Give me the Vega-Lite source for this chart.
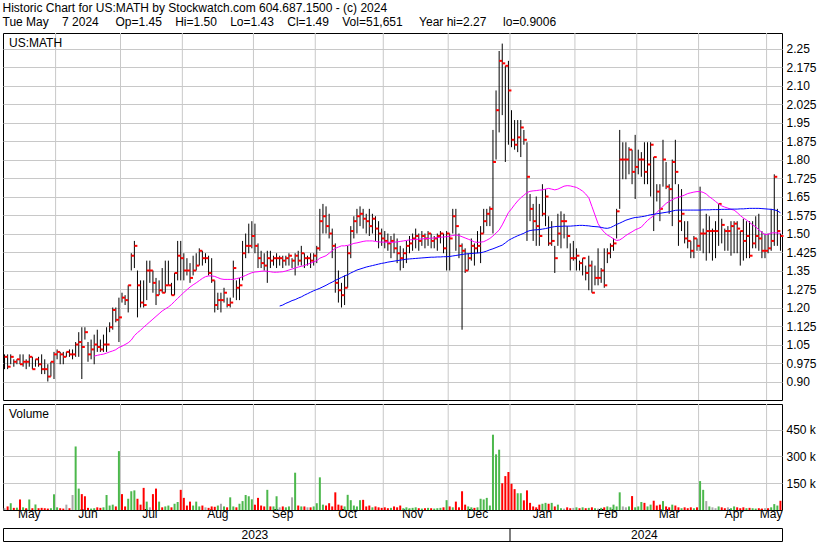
{
  "$schema": "https://vega.github.io/schema/vega-lite/v6.json",
  "background": "white",
  "padding": {"left": 2, "top": 2, "right": 2, "bottom": 2},
  "title": {
    "text": ["Historic Chart for US:MATH by Stockwatch.com 604.687.1500 - (c) 2024", "Tue May\u00a0\u00a0\u00a0 7 2024\u00a0\u00a0\u00a0\u00a0 Op=1.45\u00a0\u00a0\u00a0 Hi=1.50\u00a0\u00a0\u00a0 Lo=1.43\u00a0\u00a0\u00a0 Cl=1.49\u00a0\u00a0\u00a0 Vol=51,651\u00a0\u00a0\u00a0\u00a0 Year hi=2.27\u00a0\u00a0\u00a0\u00a0 lo=0.9006"],
    "anchor": "start", "frame": "bounds", "font": "Liberation Sans", "fontSize": 12, "fontWeight": "normal",
    "color": "black", "lineHeight": 14, "offset": 3
  },
  "config": {
    "view": {"stroke": "black", "strokeWidth": 1},
    "concat": {"spacing": 2},
    "axis": {"labelFont": "Liberation Sans", "labelFontSize": 12, "labelColor": "black", "ticks": false, "domain": false, "gridColor": "#c8c8c8", "gridOpacity": 1, "labelOverlap": false}
  },
  "datasets": {
    "months": [{"d":"2023-06-01"},{"d":"2023-07-03"},{"d":"2023-08-01"},{"d":"2023-09-01"},{"d":"2023-10-02"},{"d":"2023-11-01"},{"d":"2023-12-01"},{"d":"2024-01-02"},{"d":"2024-02-01"},{"d":"2024-03-01"},{"d":"2024-04-01"},{"d":"2024-05-01"}],
    "years": [{"d":"2023-09-01","t":"2023"},{"d":"2024-03-05","t":"2024"}],
    "yearsep": [{"d":"2024-01-02"}],
    "ohlc": [
      {"d":"2023-05-08","h":1.01,"l":0.95,"c":1.00,"v":10000,"s":"flat"},
      {"d":"2023-05-09","h":1.01,"l":0.95,"c":0.96,"v":20000,"s":"down"},
      {"d":"2023-05-10","h":1.01,"l":0.97,"c":1.00,"v":38000,"s":"up"},
      {"d":"2023-05-11","h":0.99,"l":0.96,"c":0.98,"v":12000,"s":"down"},
      {"d":"2023-05-12","h":0.99,"l":0.97,"c":0.99,"v":13000,"s":"up"},
      {"d":"2023-05-15","h":1.01,"l":0.97,"c":0.97,"v":59000,"s":"down"},
      {"d":"2023-05-16","h":1.01,"l":0.96,"c":0.98,"v":15000,"s":"up"},
      {"d":"2023-05-17","h":0.99,"l":0.95,"c":0.98,"v":10000,"s":"down"},
      {"d":"2023-05-18","h":1.01,"l":0.96,"c":1.00,"v":59000,"s":"up"},
      {"d":"2023-05-19","h":1.00,"l":0.95,"c":0.95,"v":10000,"s":"down"},
      {"d":"2023-05-22","h":0.99,"l":0.96,"c":0.99,"v":31000,"s":"up"},
      {"d":"2023-05-23","h":1.00,"l":0.96,"c":0.97,"v":10000,"s":"down"},
      {"d":"2023-05-24","h":1.01,"l":0.93,"c":0.95,"v":12000,"s":"down"},
      {"d":"2023-05-25","h":0.99,"l":0.93,"c":0.95,"v":10000,"s":"down"},
      {"d":"2023-05-26","h":0.97,"l":0.90,"c":0.92,"v":8000,"s":"down"},
      {"d":"2023-05-30","h":0.98,"l":0.92,"c":0.98,"v":10000,"s":"up"},
      {"d":"2023-05-31","h":1.02,"l":0.91,"c":1.01,"v":88000,"s":"up"},
      {"d":"2023-06-01","h":1.03,"l":0.99,"c":1.02,"v":15000,"s":"up"},
      {"d":"2023-06-02","h":1.02,"l":0.97,"c":1.01,"v":10000,"s":"down"},
      {"d":"2023-06-05","h":1.02,"l":0.97,"c":1.00,"v":8000,"s":"down"},
      {"d":"2023-06-06","h":1.02,"l":1.00,"c":1.02,"v":30000,"s":"flat"},
      {"d":"2023-06-07","h":1.03,"l":1.00,"c":1.01,"v":10000,"s":"down"},
      {"d":"2023-06-08","h":1.03,"l":0.99,"c":1.01,"v":84000,"s":"flat"},
      {"d":"2023-06-09","h":1.06,"l":1.00,"c":1.05,"v":356000,"s":"up"},
      {"d":"2023-06-12","h":1.10,"l":1.00,"c":1.06,"v":120000,"s":"up"},
      {"d":"2023-06-13","h":1.12,"l":0.91,"c":1.04,"v":89000,"s":"down"},
      {"d":"2023-06-14","h":1.12,"l":1.07,"c":1.10,"v":77000,"s":"down"},
      {"d":"2023-06-15","h":1.06,"l":0.98,"c":1.01,"v":12000,"s":"down"},
      {"d":"2023-06-16","h":1.07,"l":0.99,"c":1.03,"v":8000,"s":"up"},
      {"d":"2023-06-20","h":1.09,"l":0.97,"c":1.05,"v":10000,"s":"up","m1":1.003},
      {"d":"2023-06-21","h":1.11,"l":1.02,"c":1.04,"v":15000,"s":"down","m1":1.006},
      {"d":"2023-06-22","h":1.07,"l":1.02,"c":1.03,"v":12000,"s":"down","m1":1.009},
      {"d":"2023-06-23","h":1.09,"l":1.02,"c":1.05,"v":15000,"s":"up","m1":1.011},
      {"d":"2023-06-26","h":1.12,"l":1.02,"c":1.05,"v":84000,"s":"up","m1":1.015},
      {"d":"2023-06-27","h":1.14,"l":1.10,"c":1.12,"v":25000,"s":"up","m1":1.020},
      {"d":"2023-06-28","h":1.20,"l":1.11,"c":1.19,"v":30000,"s":"up","m1":1.024},
      {"d":"2023-06-29","h":1.20,"l":1.14,"c":1.15,"v":20000,"s":"down","m1":1.029},
      {"d":"2023-06-30","h":1.24,"l":1.06,"c":1.16,"v":330000,"s":"up","m1":1.038},
      {"d":"2023-07-03","h":1.26,"l":1.22,"c":1.24,"v":89000,"s":"down","m1":1.043},
      {"d":"2023-07-05","h":1.25,"l":1.21,"c":1.23,"v":20000,"s":"down","m1":1.050},
      {"d":"2023-07-06","h":1.29,"l":1.18,"c":1.29,"v":63000,"s":"up","m1":1.057},
      {"d":"2023-07-07","h":1.42,"l":1.35,"c":1.41,"v":105000,"s":"up","m1":1.068},
      {"d":"2023-07-10","h":1.47,"l":1.36,"c":1.45,"v":110000,"s":"up","m1":1.086},
      {"d":"2023-07-11","h":1.35,"l":1.16,"c":1.29,"v":63000,"s":"down","m1":1.098},
      {"d":"2023-07-12","h":1.31,"l":1.20,"c":1.22,"v":30000,"s":"down","m1":1.108},
      {"d":"2023-07-13","h":1.31,"l":1.20,"c":1.21,"v":124000,"s":"down","m1":1.120},
      {"d":"2023-07-14","h":1.39,"l":1.23,"c":1.35,"v":47000,"s":"up","m1":1.131},
      {"d":"2023-07-17","h":1.39,"l":1.30,"c":1.35,"v":15000,"s":"flat","m1":1.142},
      {"d":"2023-07-18","h":1.35,"l":1.26,"c":1.30,"v":89000,"s":"down","m1":1.153},
      {"d":"2023-07-19","h":1.32,"l":1.21,"c":1.25,"v":120000,"s":"down","m1":1.164},
      {"d":"2023-07-20","h":1.31,"l":1.25,"c":1.27,"v":47000,"s":"up","m1":1.175},
      {"d":"2023-07-21","h":1.36,"l":1.26,"c":1.26,"v":15000,"s":"down","m1":1.186},
      {"d":"2023-07-24","h":1.39,"l":1.26,"c":1.29,"v":20000,"s":"up","m1":1.194},
      {"d":"2023-07-25","h":1.39,"l":1.29,"c":1.29,"v":25000,"s":"up","m1":1.202},
      {"d":"2023-07-26","h":1.30,"l":1.25,"c":1.25,"v":15000,"s":"down","m1":1.212},
      {"d":"2023-07-27","h":1.34,"l":1.25,"c":1.34,"v":35000,"s":"up","m1":1.225},
      {"d":"2023-07-28","h":1.47,"l":1.31,"c":1.41,"v":45000,"s":"up","m1":1.237},
      {"d":"2023-07-31","h":1.47,"l":1.31,"c":1.40,"v":113000,"s":"down","m1":1.249},
      {"d":"2023-08-01","h":1.42,"l":1.31,"c":1.35,"v":68000,"s":"down","m1":1.261},
      {"d":"2023-08-02","h":1.40,"l":1.33,"c":1.35,"v":25000,"s":"down","m1":1.272},
      {"d":"2023-08-03","h":1.38,"l":1.30,"c":1.32,"v":47000,"s":"down","m1":1.283},
      {"d":"2023-08-04","h":1.41,"l":1.33,"c":1.35,"v":25000,"s":"up","m1":1.292},
      {"d":"2023-08-07","h":1.42,"l":1.35,"c":1.37,"v":47000,"s":"up","m1":1.300},
      {"d":"2023-08-08","h":1.44,"l":1.37,"c":1.43,"v":20000,"s":"up","m1":1.309},
      {"d":"2023-08-09","h":1.43,"l":1.37,"c":1.40,"v":25000,"s":"down","m1":1.318},
      {"d":"2023-08-10","h":1.42,"l":1.38,"c":1.40,"v":15000,"s":"flat","m1":1.325},
      {"d":"2023-08-11","h":1.41,"l":1.33,"c":1.34,"v":12000,"s":"down","m1":1.328},
      {"d":"2023-08-14","h":1.40,"l":1.30,"c":1.31,"v":20000,"s":"down","m1":1.328},
      {"d":"2023-08-15","h":1.31,"l":1.18,"c":1.21,"v":18000,"s":"down","m1":1.326},
      {"d":"2023-08-16","h":1.26,"l":1.19,"c":1.23,"v":25000,"s":"up","m1":1.321},
      {"d":"2023-08-17","h":1.26,"l":1.18,"c":1.23,"v":35000,"s":"flat","m1":1.316},
      {"d":"2023-08-18","h":1.28,"l":1.22,"c":1.26,"v":20000,"s":"up","m1":1.314},
      {"d":"2023-08-21","h":1.24,"l":1.20,"c":1.21,"v":15000,"s":"down","m1":1.314},
      {"d":"2023-08-22","h":1.24,"l":1.20,"c":1.22,"v":71000,"s":"up","m1":1.314},
      {"d":"2023-08-23","h":1.39,"l":1.24,"c":1.36,"v":20000,"s":"up","m1":1.314},
      {"d":"2023-08-24","h":1.31,"l":1.23,"c":1.28,"v":15000,"s":"down","m1":1.317},
      {"d":"2023-08-25","h":1.32,"l":1.23,"c":1.29,"v":35000,"s":"up","m1":1.320},
      {"d":"2023-08-28","h":1.47,"l":1.31,"c":1.42,"v":50000,"s":"up","m1":1.325},
      {"d":"2023-08-29","h":1.50,"l":1.40,"c":1.45,"v":84000,"s":"up","m1":1.330},
      {"d":"2023-08-30","h":1.54,"l":1.42,"c":1.45,"v":77000,"s":"up","m1":1.336},
      {"d":"2023-08-31","h":1.55,"l":1.44,"c":1.49,"v":60000,"s":"up","m1":1.341},
      {"d":"2023-09-01","h":1.54,"l":1.42,"c":1.45,"v":30000,"s":"down","m1":1.344},
      {"d":"2023-09-05","h":1.46,"l":1.36,"c":1.40,"v":68000,"s":"down","m1":1.345},
      {"d":"2023-09-06","h":1.43,"l":1.36,"c":1.38,"v":25000,"s":"down","m1":1.347},
      {"d":"2023-09-07","h":1.42,"l":1.35,"c":1.37,"v":20000,"s":"down","m1":1.348},
      {"d":"2023-09-08","h":1.43,"l":1.30,"c":1.40,"v":113000,"s":"up","m1":1.347},
      {"d":"2023-09-11","h":1.43,"l":1.36,"c":1.39,"v":20000,"s":"down","m1":1.345},
      {"d":"2023-09-12","h":1.41,"l":1.37,"c":1.40,"v":20000,"s":"up","m1":1.343},
      {"d":"2023-09-13","h":1.42,"l":1.36,"c":1.40,"v":77000,"s":"up","m1":1.343},
      {"d":"2023-09-14","h":1.41,"l":1.37,"c":1.40,"v":15000,"s":"flat","m1":1.344,"m2":1.206},
      {"d":"2023-09-15","h":1.41,"l":1.36,"c":1.39,"v":20000,"s":"down","m1":1.345,"m2":1.210},
      {"d":"2023-09-18","h":1.41,"l":1.37,"c":1.40,"v":15000,"s":"up","m1":1.348,"m2":1.217},
      {"d":"2023-09-19","h":1.42,"l":1.37,"c":1.41,"v":20000,"s":"up","m1":1.352,"m2":1.222},
      {"d":"2023-09-20","h":1.40,"l":1.36,"c":1.39,"v":71000,"s":"flat","m1":1.356,"m2":1.228},
      {"d":"2023-09-21","h":1.42,"l":1.33,"c":1.41,"v":209000,"s":"up","m1":1.360,"m2":1.232},
      {"d":"2023-09-22","h":1.43,"l":1.37,"c":1.39,"v":25000,"s":"down","m1":1.364,"m2":1.238},
      {"d":"2023-09-25","h":1.45,"l":1.37,"c":1.42,"v":20000,"s":"up","m1":1.367,"m2":1.243},
      {"d":"2023-09-26","h":1.42,"l":1.36,"c":1.40,"v":20000,"s":"down","m1":1.370,"m2":1.250},
      {"d":"2023-09-27","h":1.41,"l":1.37,"c":1.40,"v":15000,"s":"flat","m1":1.375,"m2":1.256},
      {"d":"2023-09-28","h":1.42,"l":1.36,"c":1.39,"v":15000,"s":"down","m1":1.380,"m2":1.262},
      {"d":"2023-09-29","h":1.42,"l":1.37,"c":1.41,"v":20000,"s":"up","m1":1.385,"m2":1.268},
      {"d":"2023-10-02","h":1.45,"l":1.38,"c":1.44,"v":38000,"s":"up","m1":1.390,"m2":1.273},
      {"d":"2023-10-03","h":1.60,"l":1.43,"c":1.55,"v":183000,"s":"up","m1":1.400,"m2":1.278},
      {"d":"2023-10-04","h":1.62,"l":1.50,"c":1.57,"v":30000,"s":"up","m1":1.405,"m2":1.284},
      {"d":"2023-10-05","h":1.61,"l":1.50,"c":1.53,"v":25000,"s":"down","m1":1.410,"m2":1.290},
      {"d":"2023-10-06","h":1.58,"l":1.48,"c":1.50,"v":38000,"s":"down","m1":1.420,"m2":1.297},
      {"d":"2023-10-09","h":1.52,"l":1.40,"c":1.45,"v":20000,"s":"down","m1":1.430,"m2":1.303},
      {"d":"2023-10-10","h":1.46,"l":1.26,"c":1.30,"v":99000,"s":"down","m1":1.440,"m2":1.310},
      {"d":"2023-10-11","h":1.35,"l":1.22,"c":1.27,"v":30000,"s":"down","m1":1.445,"m2":1.316},
      {"d":"2023-10-12","h":1.30,"l":1.20,"c":1.25,"v":25000,"s":"down","m1":1.450,"m2":1.322},
      {"d":"2023-10-13","h":1.33,"l":1.21,"c":1.28,"v":20000,"s":"up","m1":1.450,"m2":1.328},
      {"d":"2023-10-16","h":1.45,"l":1.28,"c":1.42,"v":85000,"s":"up","m1":1.452,"m2":1.333},
      {"d":"2023-10-17","h":1.53,"l":1.40,"c":1.51,"v":55000,"s":"up","m1":1.455,"m2":1.340},
      {"d":"2023-10-18","h":1.57,"l":1.48,"c":1.55,"v":25000,"s":"up","m1":1.460,"m2":1.346},
      {"d":"2023-10-19","h":1.60,"l":1.50,"c":1.57,"v":20000,"s":"up","m1":1.462,"m2":1.352},
      {"d":"2023-10-20","h":1.61,"l":1.53,"c":1.58,"v":55000,"s":"up","m1":1.465,"m2":1.356},
      {"d":"2023-10-23","h":1.60,"l":1.52,"c":1.56,"v":57000,"s":"down","m1":1.468,"m2":1.360},
      {"d":"2023-10-24","h":1.58,"l":1.50,"c":1.55,"v":20000,"s":"down","m1":1.470,"m2":1.364},
      {"d":"2023-10-25","h":1.60,"l":1.49,"c":1.53,"v":25000,"s":"down","m1":1.470,"m2":1.367},
      {"d":"2023-10-26","h":1.58,"l":1.50,"c":1.56,"v":15000,"s":"up","m1":1.470,"m2":1.370},
      {"d":"2023-10-27","h":1.57,"l":1.47,"c":1.52,"v":20000,"s":"down","m1":1.468,"m2":1.373},
      {"d":"2023-10-30","h":1.55,"l":1.44,"c":1.50,"v":15000,"s":"down","m1":1.466,"m2":1.376},
      {"d":"2023-10-31","h":1.52,"l":1.45,"c":1.48,"v":12000,"s":"down","m1":1.465,"m2":1.379},
      {"d":"2023-11-01","h":1.51,"l":1.44,"c":1.47,"v":15000,"s":"down","m1":1.465,"m2":1.381},
      {"d":"2023-11-02","h":1.50,"l":1.43,"c":1.46,"v":10000,"s":"down","m1":1.465,"m2":1.384},
      {"d":"2023-11-03","h":1.49,"l":1.40,"c":1.47,"v":12000,"s":"up","m1":1.464,"m2":1.386},
      {"d":"2023-11-06","h":1.50,"l":1.42,"c":1.44,"v":20000,"s":"down","m1":1.465,"m2":1.388},
      {"d":"2023-11-07","h":1.48,"l":1.38,"c":1.42,"v":15000,"s":"down","m1":1.466,"m2":1.390},
      {"d":"2023-11-08","h":1.45,"l":1.35,"c":1.40,"v":25000,"s":"down","m1":1.468,"m2":1.392},
      {"d":"2023-11-09","h":1.44,"l":1.36,"c":1.42,"v":10000,"s":"up","m1":1.470,"m2":1.394},
      {"d":"2023-11-10","h":1.47,"l":1.38,"c":1.45,"v":15000,"s":"up","m1":1.472,"m2":1.396},
      {"d":"2023-11-13","h":1.49,"l":1.42,"c":1.46,"v":10000,"s":"up","m1":1.474,"m2":1.397},
      {"d":"2023-11-14","h":1.50,"l":1.43,"c":1.48,"v":12000,"s":"up","m1":1.475,"m2":1.398},
      {"d":"2023-11-15","h":1.52,"l":1.44,"c":1.49,"v":15000,"s":"up","m1":1.476,"m2":1.399},
      {"d":"2023-11-16","h":1.50,"l":1.43,"c":1.47,"v":10000,"s":"down","m1":1.477,"m2":1.400},
      {"d":"2023-11-17","h":1.51,"l":1.45,"c":1.49,"v":8000,"s":"up","m1":1.478,"m2":1.401},
      {"d":"2023-11-20","h":1.50,"l":1.44,"c":1.48,"v":10000,"s":"down","m1":1.479,"m2":1.402},
      {"d":"2023-11-21","h":1.51,"l":1.45,"c":1.50,"v":12000,"s":"up","m1":1.480,"m2":1.403},
      {"d":"2023-11-22","h":1.50,"l":1.44,"c":1.47,"v":10000,"s":"down","m1":1.481,"m2":1.404},
      {"d":"2023-11-24","h":1.49,"l":1.44,"c":1.48,"v":8000,"s":"up","m1":1.482,"m2":1.404},
      {"d":"2023-11-27","h":1.50,"l":1.43,"c":1.49,"v":10000,"s":"up","m1":1.483,"m2":1.405},
      {"d":"2023-11-28","h":1.51,"l":1.46,"c":1.50,"v":12000,"s":"up","m1":1.485,"m2":1.405},
      {"d":"2023-11-29","h":1.50,"l":1.42,"c":1.44,"v":15000,"s":"down","m1":1.486,"m2":1.406},
      {"d":"2023-11-30","h":1.51,"l":1.35,"c":1.50,"v":55000,"s":"up","m1":1.487,"m2":1.406},
      {"d":"2023-12-01","h":1.50,"l":1.35,"c":1.48,"v":20000,"s":"down","m1":1.489,"m2":1.407},
      {"d":"2023-12-04","h":1.60,"l":1.50,"c":1.57,"v":15000,"s":"up","m1":1.492,"m2":1.409},
      {"d":"2023-12-05","h":1.60,"l":1.43,"c":1.53,"v":47000,"s":"down","m1":1.494,"m2":1.411},
      {"d":"2023-12-06","h":1.50,"l":1.40,"c":1.45,"v":15000,"s":"down","m1":1.492,"m2":1.413},
      {"d":"2023-12-07","h":1.46,"l":1.11,"c":1.43,"v":105000,"s":"down","m1":1.487,"m2":1.415},
      {"d":"2023-12-08","h":1.44,"l":1.34,"c":1.35,"v":30000,"s":"down","m1":1.482,"m2":1.417},
      {"d":"2023-12-11","h":1.42,"l":1.35,"c":1.40,"v":20000,"s":"up","m1":1.477,"m2":1.418},
      {"d":"2023-12-12","h":1.48,"l":1.39,"c":1.45,"v":15000,"s":"up","m1":1.472,"m2":1.419},
      {"d":"2023-12-13","h":1.46,"l":1.37,"c":1.44,"v":12000,"s":"down","m1":1.466,"m2":1.420},
      {"d":"2023-12-14","h":1.51,"l":1.42,"c":1.45,"v":15000,"s":"up","m1":1.464,"m2":1.421},
      {"d":"2023-12-15","h":1.53,"l":1.38,"c":1.50,"v":63000,"s":"up","m1":1.465,"m2":1.422},
      {"d":"2023-12-18","h":1.60,"l":1.50,"c":1.55,"v":59000,"s":"up","m1":1.467,"m2":1.425},
      {"d":"2023-12-19","h":1.60,"l":1.53,"c":1.58,"v":68000,"s":"up","m1":1.473,"m2":1.429},
      {"d":"2023-12-20","h":1.61,"l":1.53,"c":1.60,"v":25000,"s":"up","m1":1.480,"m2":1.434},
      {"d":"2023-12-21","h":1.92,"l":1.50,"c":1.79,"v":422000,"s":"up","m1":1.490,"m2":1.438},
      {"d":"2023-12-22","h":2.08,"l":1.80,"c":2.00,"v":312000,"s":"up","m1":1.502,"m2":1.443},
      {"d":"2023-12-26","h":2.24,"l":1.91,"c":2.20,"v":338000,"s":"up","m1":1.514,"m2":1.448},
      {"d":"2023-12-27","h":2.27,"l":1.98,"c":2.19,"v":150000,"s":"down","m1":1.535,"m2":1.453},
      {"d":"2023-12-28","h":2.18,"l":1.79,"c":2.18,"v":190000,"s":"down","m1":1.560,"m2":1.462},
      {"d":"2023-12-29","h":2.20,"l":1.86,"c":2.08,"v":213000,"s":"down","m1":1.585,"m2":1.472},
      {"d":"2024-01-02","h":2.00,"l":1.85,"c":1.88,"v":147000,"s":"down","m1":1.600,"m2":1.479},
      {"d":"2024-01-03","h":1.96,"l":1.84,"c":1.86,"v":117000,"s":"down","m1":1.617,"m2":1.485},
      {"d":"2024-01-04","h":1.96,"l":1.83,"c":1.89,"v":94000,"s":"up","m1":1.632,"m2":1.491},
      {"d":"2024-01-05","h":1.96,"l":1.81,"c":1.93,"v":94000,"s":"up","m1":1.645,"m2":1.496},
      {"d":"2024-01-08","h":1.92,"l":1.86,"c":1.88,"v":54000,"s":"down","m1":1.655,"m2":1.501},
      {"d":"2024-01-09","h":1.87,"l":1.47,"c":1.73,"v":110000,"s":"down","m1":1.666,"m2":1.508},
      {"d":"2024-01-10","h":1.66,"l":1.55,"c":1.60,"v":40000,"s":"down","m1":1.671,"m2":1.512},
      {"d":"2024-01-11","h":1.62,"l":1.47,"c":1.55,"v":20000,"s":"down","m1":1.673,"m2":1.514},
      {"d":"2024-01-12","h":1.65,"l":1.45,"c":1.53,"v":15000,"s":"down","m1":1.674,"m2":1.515},
      {"d":"2024-01-16","h":1.62,"l":1.45,"c":1.49,"v":30000,"s":"down","m1":1.676,"m2":1.516},
      {"d":"2024-01-17","h":1.70,"l":1.57,"c":1.58,"v":35000,"s":"up","m1":1.677,"m2":1.518},
      {"d":"2024-01-18","h":1.68,"l":1.53,"c":1.65,"v":40000,"s":"up","m1":1.680,"m2":1.520},
      {"d":"2024-01-19","h":1.57,"l":1.45,"c":1.46,"v":35000,"s":"down","m1":1.683,"m2":1.523},
      {"d":"2024-01-22","h":1.55,"l":1.45,"c":1.47,"v":40000,"s":"up","m1":1.680,"m2":1.526},
      {"d":"2024-01-23","h":1.45,"l":1.34,"c":1.40,"v":20000,"s":"down","m1":1.677,"m2":1.528},
      {"d":"2024-01-24","h":1.58,"l":1.45,"c":1.50,"v":30000,"s":"up","m1":1.680,"m2":1.529},
      {"d":"2024-01-25","h":1.59,"l":1.44,"c":1.55,"v":10000,"s":"up","m1":1.686,"m2":1.529},
      {"d":"2024-01-26","h":1.58,"l":1.48,"c":1.55,"v":8000,"s":"flat","m1":1.692,"m2":1.530},
      {"d":"2024-01-29","h":1.53,"l":1.44,"c":1.49,"v":15000,"s":"down","m1":1.694,"m2":1.530},
      {"d":"2024-01-30","h":1.46,"l":1.35,"c":1.40,"v":10000,"s":"down","m1":1.693,"m2":1.530},
      {"d":"2024-01-31","h":1.47,"l":1.39,"c":1.40,"v":12000,"s":"flat","m1":1.690,"m2":1.531},
      {"d":"2024-02-01","h":1.44,"l":1.35,"c":1.41,"v":15000,"s":"up","m1":1.687,"m2":1.532},
      {"d":"2024-02-02","h":1.39,"l":1.35,"c":1.38,"v":10000,"s":"down","m1":1.680,"m2":1.533},
      {"d":"2024-02-05","h":1.40,"l":1.33,"c":1.40,"v":15000,"s":"up","m1":1.672,"m2":1.533},
      {"d":"2024-02-06","h":1.37,"l":1.31,"c":1.34,"v":10000,"s":"down","m1":1.660,"m2":1.532},
      {"d":"2024-02-07","h":1.41,"l":1.27,"c":1.37,"v":12000,"s":"up","m1":1.645,"m2":1.531},
      {"d":"2024-02-08","h":1.39,"l":1.26,"c":1.26,"v":15000,"s":"down","m1":1.610,"m2":1.529},
      {"d":"2024-02-09","h":1.37,"l":1.29,"c":1.32,"v":10000,"s":"up","m1":1.575,"m2":1.528},
      {"d":"2024-02-12","h":1.44,"l":1.29,"c":1.32,"v":8000,"s":"flat","m1":1.540,"m2":1.527},
      {"d":"2024-02-13","h":1.36,"l":1.30,"c":1.35,"v":12000,"s":"up","m1":1.520,"m2":1.525},
      {"d":"2024-02-14","h":1.44,"l":1.28,"c":1.29,"v":15000,"s":"down","m1":1.505,"m2":1.522},
      {"d":"2024-02-15","h":1.44,"l":1.38,"c":1.42,"v":20000,"s":"up","m1":1.494,"m2":1.521},
      {"d":"2024-02-16","h":1.46,"l":1.40,"c":1.45,"v":15000,"s":"up","m1":1.487,"m2":1.524},
      {"d":"2024-02-20","h":1.48,"l":1.43,"c":1.46,"v":30000,"s":"up","m1":1.478,"m2":1.530},
      {"d":"2024-02-21","h":1.60,"l":1.48,"c":1.59,"v":20000,"s":"up","m1":1.472,"m2":1.537},
      {"d":"2024-02-22","h":1.92,"l":1.60,"c":1.80,"v":99000,"s":"up","m1":1.474,"m2":1.542},
      {"d":"2024-02-23","h":1.87,"l":1.72,"c":1.80,"v":20000,"s":"flat","m1":1.482,"m2":1.548},
      {"d":"2024-02-26","h":1.87,"l":1.72,"c":1.80,"v":15000,"s":"flat","m1":1.492,"m2":1.554},
      {"d":"2024-02-27","h":1.85,"l":1.74,"c":1.84,"v":20000,"s":"up","m1":1.500,"m2":1.558},
      {"d":"2024-02-28","h":1.84,"l":1.70,"c":1.75,"v":78000,"s":"down","m1":1.507,"m2":1.562},
      {"d":"2024-02-29","h":1.90,"l":1.64,"c":1.77,"v":15000,"s":"up","m1":1.515,"m2":1.565},
      {"d":"2024-03-01","h":1.84,"l":1.74,"c":1.80,"v":20000,"s":"up","m1":1.520,"m2":1.566},
      {"d":"2024-03-04","h":1.83,"l":1.73,"c":1.80,"v":45000,"s":"up","m1":1.526,"m2":1.568},
      {"d":"2024-03-05","h":1.87,"l":1.70,"c":1.75,"v":40000,"s":"down","m1":1.540,"m2":1.570},
      {"d":"2024-03-06","h":1.87,"l":1.70,"c":1.78,"v":20000,"s":"up","m1":1.553,"m2":1.573},
      {"d":"2024-03-07","h":1.87,"l":1.65,"c":1.86,"v":30000,"s":"up","m1":1.563,"m2":1.576},
      {"d":"2024-03-08","h":1.81,"l":1.51,"c":1.81,"v":52000,"s":"down","m1":1.572,"m2":1.578},
      {"d":"2024-03-11","h":1.70,"l":1.63,"c":1.67,"v":25000,"s":"down","m1":1.585,"m2":1.580},
      {"d":"2024-03-12","h":1.70,"l":1.55,"c":1.60,"v":30000,"s":"down","m1":1.598,"m2":1.582},
      {"d":"2024-03-13","h":1.88,"l":1.69,"c":1.80,"v":50000,"s":"up","m1":1.610,"m2":1.584},
      {"d":"2024-03-14","h":1.79,"l":1.68,"c":1.69,"v":20000,"s":"down","m1":1.622,"m2":1.586},
      {"d":"2024-03-15","h":1.70,"l":1.58,"c":1.68,"v":15000,"s":"down","m1":1.630,"m2":1.588},
      {"d":"2024-03-18","h":1.80,"l":1.53,"c":1.79,"v":30000,"s":"up","m1":1.637,"m2":1.591},
      {"d":"2024-03-19","h":1.88,"l":1.70,"c":1.75,"v":25000,"s":"down","m1":1.643,"m2":1.594},
      {"d":"2024-03-20","h":1.70,"l":1.45,"c":1.55,"v":15000,"s":"down","m1":1.647,"m2":1.595},
      {"d":"2024-03-21","h":1.68,"l":1.51,"c":1.58,"v":10000,"s":"up","m1":1.651,"m2":1.595},
      {"d":"2024-03-22","h":1.55,"l":1.46,"c":1.48,"v":15000,"s":"down","m1":1.656,"m2":1.595},
      {"d":"2024-03-25","h":1.55,"l":1.44,"c":1.47,"v":10000,"s":"down","m1":1.662,"m2":1.595},
      {"d":"2024-03-26","h":1.47,"l":1.40,"c":1.43,"v":15000,"s":"down","m1":1.665,"m2":1.595},
      {"d":"2024-03-27","h":1.49,"l":1.40,"c":1.48,"v":10000,"s":"up","m1":1.668,"m2":1.595},
      {"d":"2024-03-28","h":1.48,"l":1.43,"c":1.45,"v":15000,"s":"down","m1":1.670,"m2":1.595},
      {"d":"2024-04-01","h":1.69,"l":1.43,"c":1.50,"v":162000,"s":"up","m1":1.670,"m2":1.595},
      {"d":"2024-04-02","h":1.52,"l":1.42,"c":1.50,"v":113000,"s":"up","m1":1.667,"m2":1.596},
      {"d":"2024-04-03","h":1.58,"l":1.39,"c":1.51,"v":50000,"s":"flat","m1":1.660,"m2":1.596},
      {"d":"2024-04-04","h":1.57,"l":1.42,"c":1.51,"v":20000,"s":"up","m1":1.649,"m2":1.596},
      {"d":"2024-04-05","h":1.52,"l":1.39,"c":1.51,"v":15000,"s":"flat","m1":1.640,"m2":1.597},
      {"d":"2024-04-08","h":1.55,"l":1.40,"c":1.51,"v":10000,"s":"flat","m1":1.630,"m2":1.597},
      {"d":"2024-04-09","h":1.62,"l":1.45,"c":1.62,"v":20000,"s":"up","m1":1.620,"m2":1.597},
      {"d":"2024-04-10","h":1.56,"l":1.46,"c":1.535,"v":15000,"s":"down","m1":1.612,"m2":1.598},
      {"d":"2024-04-11","h":1.52,"l":1.43,"c":1.51,"v":10000,"s":"down","m1":1.607,"m2":1.598},
      {"d":"2024-04-12","h":1.53,"l":1.43,"c":1.51,"v":15000,"s":"flat","m1":1.603,"m2":1.598},
      {"d":"2024-04-15","h":1.55,"l":1.41,"c":1.53,"v":10000,"s":"up","m1":1.598,"m2":1.599},
      {"d":"2024-04-16","h":1.55,"l":1.42,"c":1.54,"v":20000,"s":"up","m1":1.595,"m2":1.599},
      {"d":"2024-04-17","h":1.55,"l":1.42,"c":1.52,"v":15000,"s":"down","m1":1.585,"m2":1.599},
      {"d":"2024-04-18","h":1.51,"l":1.37,"c":1.51,"v":10000,"s":"down","m1":1.573,"m2":1.600},
      {"d":"2024-04-19","h":1.56,"l":1.39,"c":1.47,"v":15000,"s":"down","m1":1.563,"m2":1.600},
      {"d":"2024-04-22","h":1.55,"l":1.40,"c":1.49,"v":10000,"s":"up","m1":1.555,"m2":1.601},
      {"d":"2024-04-23","h":1.55,"l":1.40,"c":1.41,"v":12000,"s":"down","m1":1.545,"m2":1.602},
      {"d":"2024-04-24","h":1.55,"l":1.44,"c":1.46,"v":10000,"s":"up","m1":1.535,"m2":1.602},
      {"d":"2024-04-25","h":1.57,"l":1.44,"c":1.49,"v":8000,"s":"up","m1":1.527,"m2":1.602},
      {"d":"2024-04-26","h":1.58,"l":1.43,"c":1.48,"v":10000,"s":"down","m1":1.515,"m2":1.602},
      {"d":"2024-04-29","h":1.51,"l":1.40,"c":1.43,"v":8000,"s":"down","m1":1.505,"m2":1.601},
      {"d":"2024-04-30","h":1.50,"l":1.40,"c":1.43,"v":10000,"s":"flat","m1":1.495,"m2":1.600},
      {"d":"2024-05-01","h":1.50,"l":1.42,"c":1.44,"v":10000,"s":"down","m1":1.497,"m2":1.599},
      {"d":"2024-05-02","h":1.60,"l":1.43,"c":1.47,"v":15000,"s":"up","m1":1.502,"m2":1.598},
      {"d":"2024-05-03","h":1.74,"l":1.45,"c":1.73,"v":33000,"s":"up","m1":1.503,"m2":1.596},
      {"d":"2024-05-06","h":1.60,"l":1.45,"c":1.51,"v":25000,"s":"up","m1":1.502,"m2":1.592},
      {"d":"2024-05-07","h":1.50,"l":1.43,"c":1.49,"v":51651,"s":"down","m1":1.501,"m2":1.584}
    ]
  },
  "data": {"name": "ohlc"},
  "resolve": {"scale": {"x": "shared"}, "axis": {"x": "independent"}},
  "vconcat": [
    {
      "width": 779,
      "height": 367,
      "title": {"text": "US:MATH", "anchor": "start", "offset": -17, "dx": 6, "font": "Liberation Sans", "fontSize": 12, "fontWeight": "normal", "color": "black"},
      "layer": [
        {
          "data": {"name": "months"},
          "mark": {"type": "rule", "color": "#c8c8c8", "strokeWidth": 1, "xOffset": -1.5},
          "encoding": {"x": {"field": "d", "type": "ordinal", "axis": null, "scale": {"type": "band", "paddingInner": 0, "paddingOuter": 0}}}
        },
        {
          "mark": {"type": "rule", "color": "black", "strokeWidth": 1},
          "encoding": {
            "x": {"field": "d", "type": "ordinal", "axis": null},
            "y": {"field": "l", "type": "quantitative", "scale": {"domain": [0.825, 2.313], "nice": false, "zero": false},
                  "axis": {"orient": "right", "title": null, "grid": true, "labelOverlap": false, "tickCount": 19, "values": [0.9, 0.975, 1.05, 1.125, 1.2, 1.275, 1.35, 1.425, 1.5, 1.575, 1.65, 1.725, 1.8, 1.875, 1.95, 2.025, 2.1, 2.175, 2.25],
                           "labelExpr": "round(datum.value*1000) % 10 == 0 ? format(datum.value, '.2f') : format(datum.value, '.3f')", "labelPadding": 4}},
            "y2": {"field": "h"}
          }
        },
        {
          "mark": {"type": "tick", "color": "#ff0000", "thickness": 2, "size": 3, "xOffset": 1.5, "opacity": 1},
          "encoding": {"x": {"field": "d", "type": "ordinal", "axis": null},
            "y": {"field": "c", "type": "quantitative",
                  "axis": {"orient": "right", "title": null, "grid": true, "labelOverlap": false, "tickCount": 19, "values": [0.9, 0.975, 1.05, 1.125, 1.2, 1.275, 1.35, 1.425, 1.5, 1.575, 1.65, 1.725, 1.8, 1.875, 1.95, 2.025, 2.1, 2.175, 2.25],
                           "labelExpr": "round(datum.value*1000) % 10 == 0 ? format(datum.value, '.2f') : format(datum.value, '.3f')", "labelPadding": 4}}}
        },
        {
          "mark": {"type": "line", "color": "#ff00ff", "strokeWidth": 1},
          "encoding": {"x": {"field": "d", "type": "ordinal", "axis": null},
            "y": {"field": "m1", "type": "quantitative",
                  "axis": {"orient": "right", "title": null, "grid": true, "labelOverlap": false, "tickCount": 19, "values": [0.9, 0.975, 1.05, 1.125, 1.2, 1.275, 1.35, 1.425, 1.5, 1.575, 1.65, 1.725, 1.8, 1.875, 1.95, 2.025, 2.1, 2.175, 2.25],
                           "labelExpr": "round(datum.value*1000) % 10 == 0 ? format(datum.value, '.2f') : format(datum.value, '.3f')", "labelPadding": 4}}}
        },
        {
          "mark": {"type": "line", "color": "#0000ff", "strokeWidth": 1},
          "encoding": {"x": {"field": "d", "type": "ordinal", "axis": null},
            "y": {"field": "m2", "type": "quantitative",
                  "axis": {"orient": "right", "title": null, "grid": true, "labelOverlap": false, "tickCount": 19, "values": [0.9, 0.975, 1.05, 1.125, 1.2, 1.275, 1.35, 1.425, 1.5, 1.575, 1.65, 1.725, 1.8, 1.875, 1.95, 2.025, 2.1, 2.175, 2.25],
                           "labelExpr": "round(datum.value*1000) % 10 == 0 ? format(datum.value, '.2f') : format(datum.value, '.3f')", "labelPadding": 4}}}
        }
      ]
    },
    {
      "width": 779,
      "height": 106,
      "title": {"text": "Volume", "anchor": "start", "offset": -17, "dx": 6, "font": "Liberation Sans", "fontSize": 12, "fontWeight": "normal", "color": "black"},
      "layer": [
        {
          "data": {"name": "months"},
          "mark": {"type": "rule", "color": "#c8c8c8", "strokeWidth": 1, "xOffset": -1.5},
          "encoding": {"x": {"field": "d", "type": "ordinal"}}
        },
        {
          "mark": {"type": "bar", "width": 2},
          "encoding": {
            "x": {"field": "d", "type": "ordinal", "title": null,
              "axis": {"orient": "bottom", "grid": false, "labelPadding": 3, "labelAngle": 0, "labelAlign": "center", "labelOverlap": false, "minExtent": 14, "maxExtent": 14,
                       "values": ["2023-05-18","2023-06-15","2023-07-17","2023-08-16","2023-09-15","2023-10-16","2023-11-14","2023-12-14","2024-01-17","2024-02-15","2024-03-15","2024-04-16","2024-05-02"],
                       "labelExpr": "utcFormat(toDate(datum.value), '%b')"}},
            "y": {"field": "v", "type": "quantitative", "scale": {"domain": [0, 594000], "nice": false},
                  "axis": {"orient": "right", "title": null, "grid": true, "values": [150000, 300000, 450000], "labelExpr": "format(datum.value / 1000, 'd') + ' k'", "labelPadding": 4}},
            "color": {"field": "s", "type": "nominal", "legend": null, "scale": {"domain": ["up", "down", "flat"], "range": ["#4cb84c", "#ff0000", "#a8a8a8"]}}
          }
        }
      ]
    },
    {
      "width": 779,
      "height": 13,
      "layer": [
        {
          "data": {"name": "years"},
          "mark": {"type": "text", "font": "Liberation Sans", "fontSize": 12, "color": "black"},
          "encoding": {"x": {"field": "d", "type": "ordinal", "axis": null}, "text": {"field": "t", "type": "nominal"}}
        },
        {
          "data": {"name": "yearsep"},
          "mark": {"type": "rule", "color": "black", "strokeWidth": 1, "xOffset": -1.5},
          "encoding": {"x": {"field": "d", "type": "ordinal", "axis": null}}
        }
      ]
    }
  ]
}
